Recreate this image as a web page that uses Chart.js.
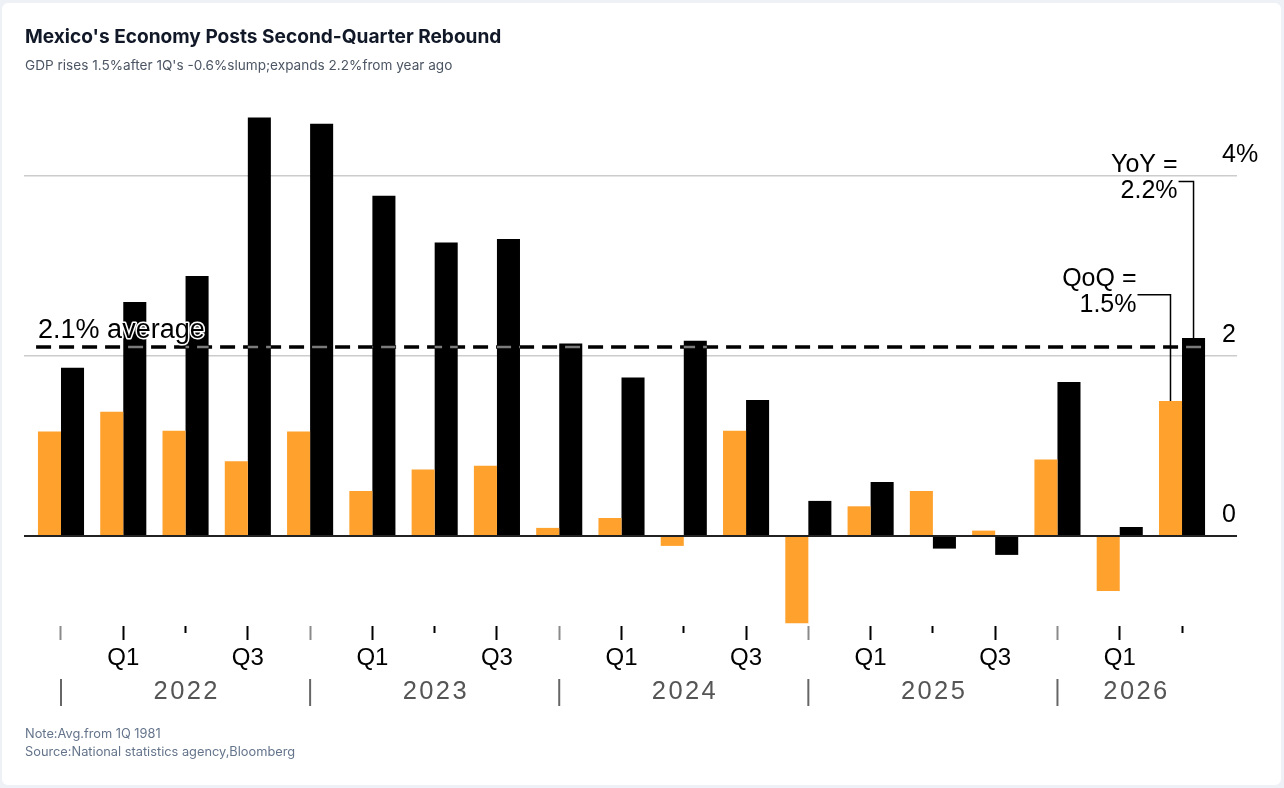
<!DOCTYPE html>
<html>
<head>
<meta charset="utf-8">
<title>Mexico GDP</title>
<script src="https://cdn.jsdelivr.net/npm/chart.js@4.4.1/dist/chart.umd.min.js"></script>
<style>
  html, body { margin: 0; padding: 0; }
  body { width: 1284px; height: 788px; background: #eef1f5; position: relative; overflow: hidden; font-family: Inter, "Noto Sans", sans-serif; }
  .card { position: absolute; left: 2px; top: 3px; right: 3px; bottom: 3px; background: #fff; border-radius: 6px; }
  canvas { position: absolute; left: 0; top: 0; }
  .title { position: absolute; left: 25px; top: 24px; font-size: 19.1px; font-weight: 700; color: #111827; line-height: 24px; }
  .sub { position: absolute; left: 25px; top: 56px; font-size: 13.6px; color: #4b5563; line-height: 18px; }
  .note { position: absolute; left: 25px; top: 725px; font-size: 12.8px; color: #64748b; line-height: 18px; }
</style>
</head>
<body>
<div class="card"></div>
<canvas id="gdpChart" width="1284" height="788"></canvas>
<div class="title">Mexico's Economy Posts Second-Quarter Rebound</div>
<div class="sub">GDP rises 1.5%after 1Q's -0.6%slump;expands 2.2%from year ago</div>
<div class="note">Note:Avg.from 1Q 1981<br>Source:National statistics agency,Bloomberg</div>
<script>
// quarters shown, oldest first
const quarters = ['4Q21', '1Q22', '2Q22', '3Q22', '4Q22', '1Q23', '2Q23', '3Q23', '4Q23',
  '1Q24', '2Q24', '3Q24', '4Q24', '1Q25', '2Q25', '3Q25', '4Q25', '1Q26', '2Q26'];
const tickLabels = ['', 'Q1', '', 'Q3', '', 'Q1', '', 'Q3', '', 'Q1', '', 'Q3', '', 'Q1', '', 'Q3', '', 'Q1', ''];
const years = ['2022', '2023', '2024', '2025', '2026'];
const yearStarts = [0, 4, 8, 12, 16];

// GDP growth, %
const qoq = [1.16, 1.38, 1.17, 0.83, 1.16, 0.50, 0.74, 0.78, 0.09, 0.20, -0.11, 1.17, -0.97, 0.33, 0.50, 0.06, 0.85, -0.61, 1.50];
const yoy = [1.87, 2.60, 2.89, 4.65, 4.58, 3.78, 3.26, 3.30, 2.14, 1.76, 2.17, 1.51, 0.39, 0.60, -0.14, -0.21, 1.71, 0.10, 2.20];

const yTicks = [0, 2, 4];
const average = 2.1;

const FONT = '"Liberation Sans", Arial, Helvetica, sans-serif';
Chart.defaults.font.family = FONT;

const last = quarters.length - 1;
const series = [qoq, yoy];

// dashed long-run average line + its label
const avgLine = {
    id: 'avgLine',
    afterDatasetsDraw(chart) {
        const ctx = chart.ctx;
        const x = chart.scales.x, y = chart.scales.y;
        const py = y.getPixelForValue(average);
        const x0 = x.getPixelForValue(-0.4);
        const x1 = x.getPixelForValue(last + 0.4);

        ctx.save();
        ctx.lineWidth = 3.5;
        ctx.setLineDash([15, 8]);
        ctx.strokeStyle = '#000';
        ctx.beginPath(); ctx.moveTo(x0, py); ctx.lineTo(x1, py); ctx.stroke();

        // where the dashes cross a black bar they show up grey
        ctx.beginPath();
        chart.getDatasetMeta(1).data.forEach(function(b) {
            ctx.rect(b.x - b.width / 2, Math.min(b.y, b.base), b.width, Math.abs(b.base - b.y));
        });
        ctx.clip();
        ctx.lineWidth = 2.5;
        ctx.strokeStyle = '#7a7a7a';
        ctx.beginPath(); ctx.moveTo(x0, py); ctx.lineTo(x1, py); ctx.stroke();
        ctx.restore();

        ctx.save();
        ctx.font = '27px ' + FONT;
        ctx.lineJoin = 'round';
        ctx.strokeStyle = '#fff';
        ctx.lineWidth = 3;
        const txt = average.toFixed(1) + '% average';
        ctx.strokeText(txt, x0 + 2, py - 9);
        ctx.fillStyle = '#000';
        ctx.fillText(txt, x0 + 2, py - 9);
        ctx.restore();
    }
};

// "QoQ =" / "YoY =" call-outs on the latest quarter
const callouts = [
    { ds: 0, name: 'QoQ =', at: 2.68, reach: 34 },
    { ds: 1, name: 'YoY =', at: 3.94, reach: 16 }
];
const calloutPlugin = {
    id: 'callouts',
    afterDatasetsDraw(chart) {
        const ctx = chart.ctx;
        const y = chart.scales.y;
        callouts.forEach(function(c) {
            const bar = chart.getDatasetMeta(c.ds).data[last];
            const val = series[c.ds][last];
            const ly = y.getPixelForValue(c.at);
            const tx = bar.x - c.reach;
            ctx.save();
            ctx.strokeStyle = '#000';
            ctx.lineWidth = 1.5;
            ctx.beginPath();
            ctx.moveTo(tx + 1, ly);
            ctx.lineTo(bar.x, ly);
            ctx.lineTo(bar.x, bar.y);
            ctx.stroke();
            ctx.font = '25px ' + FONT;
            ctx.fillStyle = '#000';
            ctx.textAlign = 'right';
            ctx.textBaseline = 'middle';
            ctx.fillText(c.name, tx, ly - 16);
            ctx.fillText(val.toFixed(1) + '%', tx, ly + 10);
            ctx.restore();
        });
    }
};

// year row under the quarter labels
const yearRow = {
    id: 'yearRow',
    afterDraw(chart) {
        const ctx = chart.ctx;
        const x = chart.scales.x;
        ctx.save();
        ctx.strokeStyle = '#666';
        ctx.lineWidth = 2;
        ctx.fillStyle = '#555';
        ctx.font = '25.5px ' + FONT;
        ctx.letterSpacing = '2.4px';
        ctx.textAlign = 'center';
        ctx.textBaseline = 'middle';
        yearStarts.forEach(function(s, i) {
            const sx = x.getPixelForValue(s);
            ctx.beginPath(); ctx.moveTo(sx, 679); ctx.lineTo(sx, 706); ctx.stroke();
            const ex = i < yearStarts.length - 1 ? x.getPixelForValue(yearStarts[i + 1]) : x.getPixelForValue(last + 0.5);
            ctx.fillText(years[i], (sx + ex) / 2 + 1.2, 692);
        });
        ctx.restore();
    }
};

function gridColor(c) { return c.tick.value === 0 ? '#222' : '#cccccc'; }
function gridWidth(c) { return c.tick.value === 0 ? 2 : 1.5; }

const ctx = document.getElementById('gdpChart');
new Chart(ctx, {
    type: 'bar',
    data: {
        labels: quarters,
        datasets: [{
            label: 'QoQ',
            data: qoq.map(function(v, i) { return { x: i, y: v }; }),
            backgroundColor: '#ffa12d',
            borderWidth: 0,
            categoryPercentage: 0.74,
            barPercentage: 1.0
        }, {
            label: 'YoY',
            data: yoy.map(function(v, i) { return { x: i, y: v }; }),
            backgroundColor: '#000',
            borderWidth: 0,
            categoryPercentage: 0.74,
            barPercentage: 1.0
        }]
    },
    options: {
        responsive: false,
        animation: false,
        layout: { padding: { top: 86, left: 24, right: 0, bottom: 0 } },
        plugins: {
            legend: { display: false },
            tooltip: { enabled: false }
        },
        scales: {
            x: {
                type: 'linear',
                min: -0.594,
                max: 18.642,
                bounds: 'data',
                offset: false,
                border: { display: false },
                grid: {
                    offset: false,
                    drawOnChartArea: false,
                    drawTicks: true,
                    tickLength: 14,
                    tickWidth: 2,
                    tickColor: function(c) {
                        return yearStarts.indexOf(c.tick.value) >= 0 ? '#8a8a8a' : '#000';
                    },
                    tickBorderDash: function(c) {
                        const v = c.tick.value;
                        return (tickLabels[v] === '' && yearStarts.indexOf(v) < 0) ? [7, 50] : [];
                    }
                },
                afterBuildTicks: function(scale) {
                    scale.ticks = quarters.map(function(q, i) { return { value: i }; });
                },
                afterFit: function(scale) { scale.height = 162; },
                ticks: {
                    autoSkip: false,
                    maxRotation: 0,
                    minRotation: 0,
                    padding: 4,
                    color: '#000',
                    font: { size: 24 },
                    callback: function(v) { return tickLabels[v] || ''; }
                }
            },
            y: {
                position: 'right',
                min: -1,
                max: 5,
                bounds: 'data',
                border: { display: false },
                grid: {
                    drawTicks: true,
                    tickLength: 15,
                    color: gridColor,
                    tickColor: gridColor,
                    lineWidth: gridWidth,
                    tickWidth: gridWidth
                },
                afterBuildTicks: function(scale) {
                    scale.ticks = yTicks.map(function(v) { return { value: v }; });
                },
                afterFit: function(scale) { scale.width = 62; },
                ticks: {
                    padding: -15,
                    labelOffset: -21,
                    color: '#000',
                    font: { size: 25 },
                    callback: function(v) { return v === yTicks[yTicks.length - 1] ? v + '%' : String(v); }
                }
            }
        }
    },
    plugins: [avgLine, calloutPlugin, yearRow]
});
</script>
</body>
</html>
